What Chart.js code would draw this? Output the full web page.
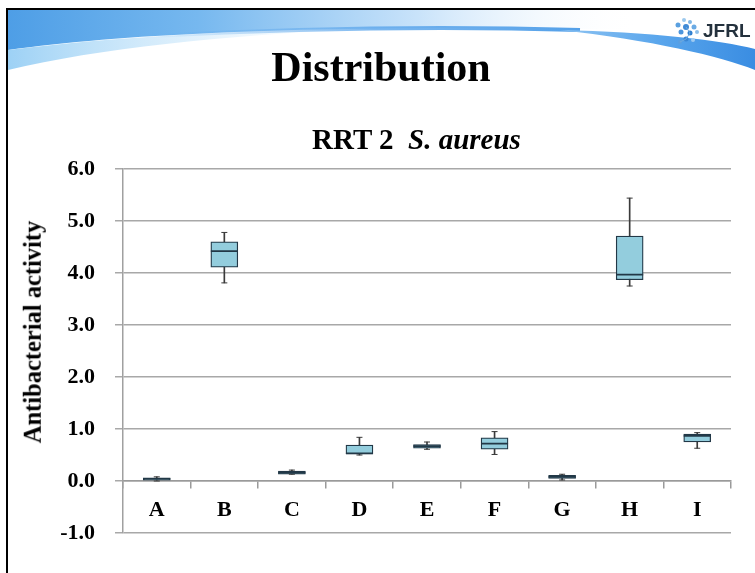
<!DOCTYPE html>
<html>
<head>
<meta charset="utf-8">
<script src="https://cdn.jsdelivr.net/npm/chart.js@4/dist/chart.umd.min.js"></script>
<style>
html,body{margin:0;padding:0;background:#fff;}
#wrap{position:relative;width:755px;height:573px;overflow:hidden;}
#c{position:absolute;left:0;top:0;}
.t{position:absolute;font-family:'Liberation Serif','Times New Roman',serif;font-weight:bold;color:#000;white-space:nowrap;line-height:1;}
#title{left:0;width:762px;text-align:center;top:46px;font-size:42px;}
#sub{left:0;width:833px;text-align:center;top:125px;font-size:29px;}
#ytitle{left:33px;top:332px;font-size:24.5px;transform:translate(-50%,-50%) rotate(-90deg);}
#logo{position:absolute;left:703px;top:21px;font-family:'Liberation Sans',Arial,sans-serif;font-weight:bold;font-size:19px;color:#24313d;line-height:1;}
</style>
</head>
<body>
<div id="wrap">
<canvas id="c" width="755" height="573"></canvas>
<div class="t" id="title">Distribution</div>
<div class="t" id="sub">RRT 2&nbsp;&nbsp;<i>S. aureus</i></div>
<div class="t" id="ytitle">Antibacterial activity</div>
<div id="logo">JFRL</div>
</div>
<script>
// ---- data ----
const categories = ['A', 'B', 'C', 'D', 'E', 'F', 'G', 'H', 'I'];
const whiskerLow  = [0.00, 3.81, 0.13, 0.50, 0.61, 0.51, 0.02, 3.75, 0.63];
const quartile1   = [0.00, 4.11, 0.13, 0.52, 0.63, 0.61, 0.05, 3.87, 0.75];
const medians     = [0.04, 4.42, 0.16, 0.53, 0.67, 0.72, 0.08, 3.97, 0.87];
const quartile3   = [0.06, 4.60, 0.19, 0.69, 0.70, 0.83, 0.11, 4.71, 0.90];
const whiskerHigh = [0.08, 4.78, 0.21, 0.84, 0.75, 0.95, 0.13, 5.44, 0.93];
const yMin = -1, yMax = 6, yStep = 1;

const serif = "'Liberation Serif','Times New Roman',serif";

const decor = {
  id: 'decor',
  beforeDraw(chart) {
    const ctx = chart.ctx;
    ctx.save();
    ctx.fillStyle = '#fff';
    ctx.fillRect(0, 0, chart.width, chart.height);
    // upper gradient band
    let g = ctx.createLinearGradient(8, 0, 640, 0);
    g.addColorStop(0, '#4e9ee6');
    g.addColorStop(0.3, '#76b8ef');
    g.addColorStop(0.65, '#c9e3fa');
    g.addColorStop(1, 'rgba(255,255,255,0)');
    ctx.fillStyle = g;
    ctx.beginPath();
    ctx.moveTo(8, 10);
    ctx.lineTo(640, 10);
    ctx.lineTo(640, 30);
    ctx.bezierCurveTo(420, 25, 160, 28, 8, 50);
    ctx.closePath();
    ctx.fill();
    // lower light wedge on the left
    g = ctx.createLinearGradient(8, 0, 360, 0);
    g.addColorStop(0, '#9dd1f5');
    g.addColorStop(1, 'rgba(220,240,253,0)');
    ctx.fillStyle = g;
    ctx.beginPath();
    ctx.moveTo(8, 50);
    ctx.bezierCurveTo(120, 36, 240, 31, 360, 29);
    ctx.bezierCurveTo(220, 36, 100, 48, 8, 70);
    ctx.closePath();
    ctx.fill();
    // stripe along the boundary
    g = ctx.createLinearGradient(150, 0, 600, 0);
    g.addColorStop(0, 'rgba(90,165,235,0)');
    g.addColorStop(0.5, 'rgba(90,165,235,0.8)');
    g.addColorStop(1, 'rgba(80,158,232,1)');
    ctx.strokeStyle = g;
    ctx.lineWidth = 4;
    ctx.beginPath();
    ctx.moveTo(150, 36);
    ctx.bezierCurveTo(300, 28, 450, 26, 580, 30);
    ctx.stroke();
    // right wedge
    g = ctx.createLinearGradient(560, 0, 755, 0);
    g.addColorStop(0, '#8fc4f2');
    g.addColorStop(0.5, '#5aa6ec');
    g.addColorStop(1, '#3a8de2');
    ctx.fillStyle = g;
    ctx.beginPath();
    ctx.moveTo(560, 30);
    ctx.bezierCurveTo(650, 32, 720, 40, 755, 49);
    ctx.lineTo(755, 70);
    ctx.bezierCurveTo(720, 56, 650, 40, 560, 30);
    ctx.closePath();
    ctx.fill();
    // logo dots
    const dots = [[684,20,2,'#9cc9ee'],[690,22,2,'#7fb6e6'],[678,25,2.5,'#5aa0e0'],[686,27,3,'#3f8ad6'],[694,27,2.5,'#6aaae4'],
                  [681,32,2.5,'#4d95dc'],[690,33,2.5,'#2f7fd0'],[697,32,2,'#8dbfea'],[686,39,2.5,'#3a86d4'],[680,42,2,'#5d9fdf'],[693,40,2,'#9fcaf0']];
    dots.forEach(d => { ctx.fillStyle = d[3]; ctx.beginPath(); ctx.arc(d[0], d[1], d[2], 0, Math.PI * 2); ctx.fill(); });
    ctx.strokeStyle = '#6fa9dd'; ctx.lineWidth = 1;
    ctx.beginPath(); ctx.moveTo(686,27); ctx.lineTo(690,33); ctx.lineTo(686,39); ctx.lineTo(680,42); ctx.stroke();
    // slide frame
    ctx.fillStyle = '#000';
    ctx.fillRect(6, 8, 760, 2);
    ctx.fillRect(6, 8, 2, 580);
    ctx.restore();
  }
};

const boxFill = '#93cddd';
const boxLine = '#223847';

new Chart(document.getElementById('c'), {
  type: 'bar',
  data: {
    labels: categories,
    datasets: [
      {
        label: 'whisker',
        data: categories.map((c, i) => [whiskerLow[i], whiskerHigh[i]]),
        backgroundColor: '#3a3a3a',
        borderWidth: 0,
        barThickness: 1,
        grouped: false,
        order: 5
      },
      {
        label: 'box',
        data: categories.map((c, i) => [quartile1[i], quartile3[i]]),
        backgroundColor: boxFill,
        borderColor: boxLine,
        borderWidth: 1.3,
        borderSkipped: false,
        barThickness: 27,
        grouped: false,
        order: 4
      },
      {
        type: 'line',
        label: 'high cap',
        data: whiskerHigh,
        showLine: false,
        pointStyle: 'line',
        pointRadius: 3,
        pointHoverRadius: 3,
        pointBorderColor: '#3a3a3a',
        pointBorderWidth: 1,
        order: 3
      },
      {
        type: 'line',
        label: 'low cap',
        data: whiskerLow,
        showLine: false,
        pointStyle: 'line',
        pointRadius: 3,
        pointHoverRadius: 3,
        pointBorderColor: '#3a3a3a',
        pointBorderWidth: 1,
        order: 2
      },
      {
        type: 'line',
        label: 'median',
        data: medians,
        showLine: false,
        pointStyle: 'line',
        pointRadius: 13.5,
        pointHoverRadius: 13.5,
        pointBorderColor: boxLine,
        pointBorderWidth: 1.8,
        order: 1
      }
    ]
  },
  options: {
    responsive: false,
    animation: false,
    devicePixelRatio: 1,
    layout: { padding: { top: 169, right: 24, bottom: 40, left: 0 } },
    plugins: { legend: { display: false }, tooltip: { enabled: false } },
    scales: {
      x: {
        type: 'category',
        position: { y: 0 },
        offset: true,
        grid: { offset: true, drawOnChartArea: false, drawTicks: true, tickLength: 7, color: '#9a9a9a', lineWidth: 1.5 },
        border: { display: true, color: '#9a9a9a', width: 1.5 },
        ticks: { color: '#000', padding: 9, maxRotation: 0, font: { family: serif, size: 22, weight: 'bold' } }
      },
      y: {
        min: yMin,
        max: yMax,
        afterFit(s) { s.width = 123; },
        grid: { color: '#a8a8a8', lineWidth: 1.5, tickLength: 8 },
        border: { display: true, color: '#a0a0a0', width: 1.5 },
        ticks: {
          stepSize: yStep,
          padding: 20,
          color: '#000',
          font: { family: serif, size: 22, weight: 'bold' },
          callback: v => Number(v).toFixed(1)
        }
      }
    }
  },
  plugins: [decor]
});
</script>
</body>
</html>
